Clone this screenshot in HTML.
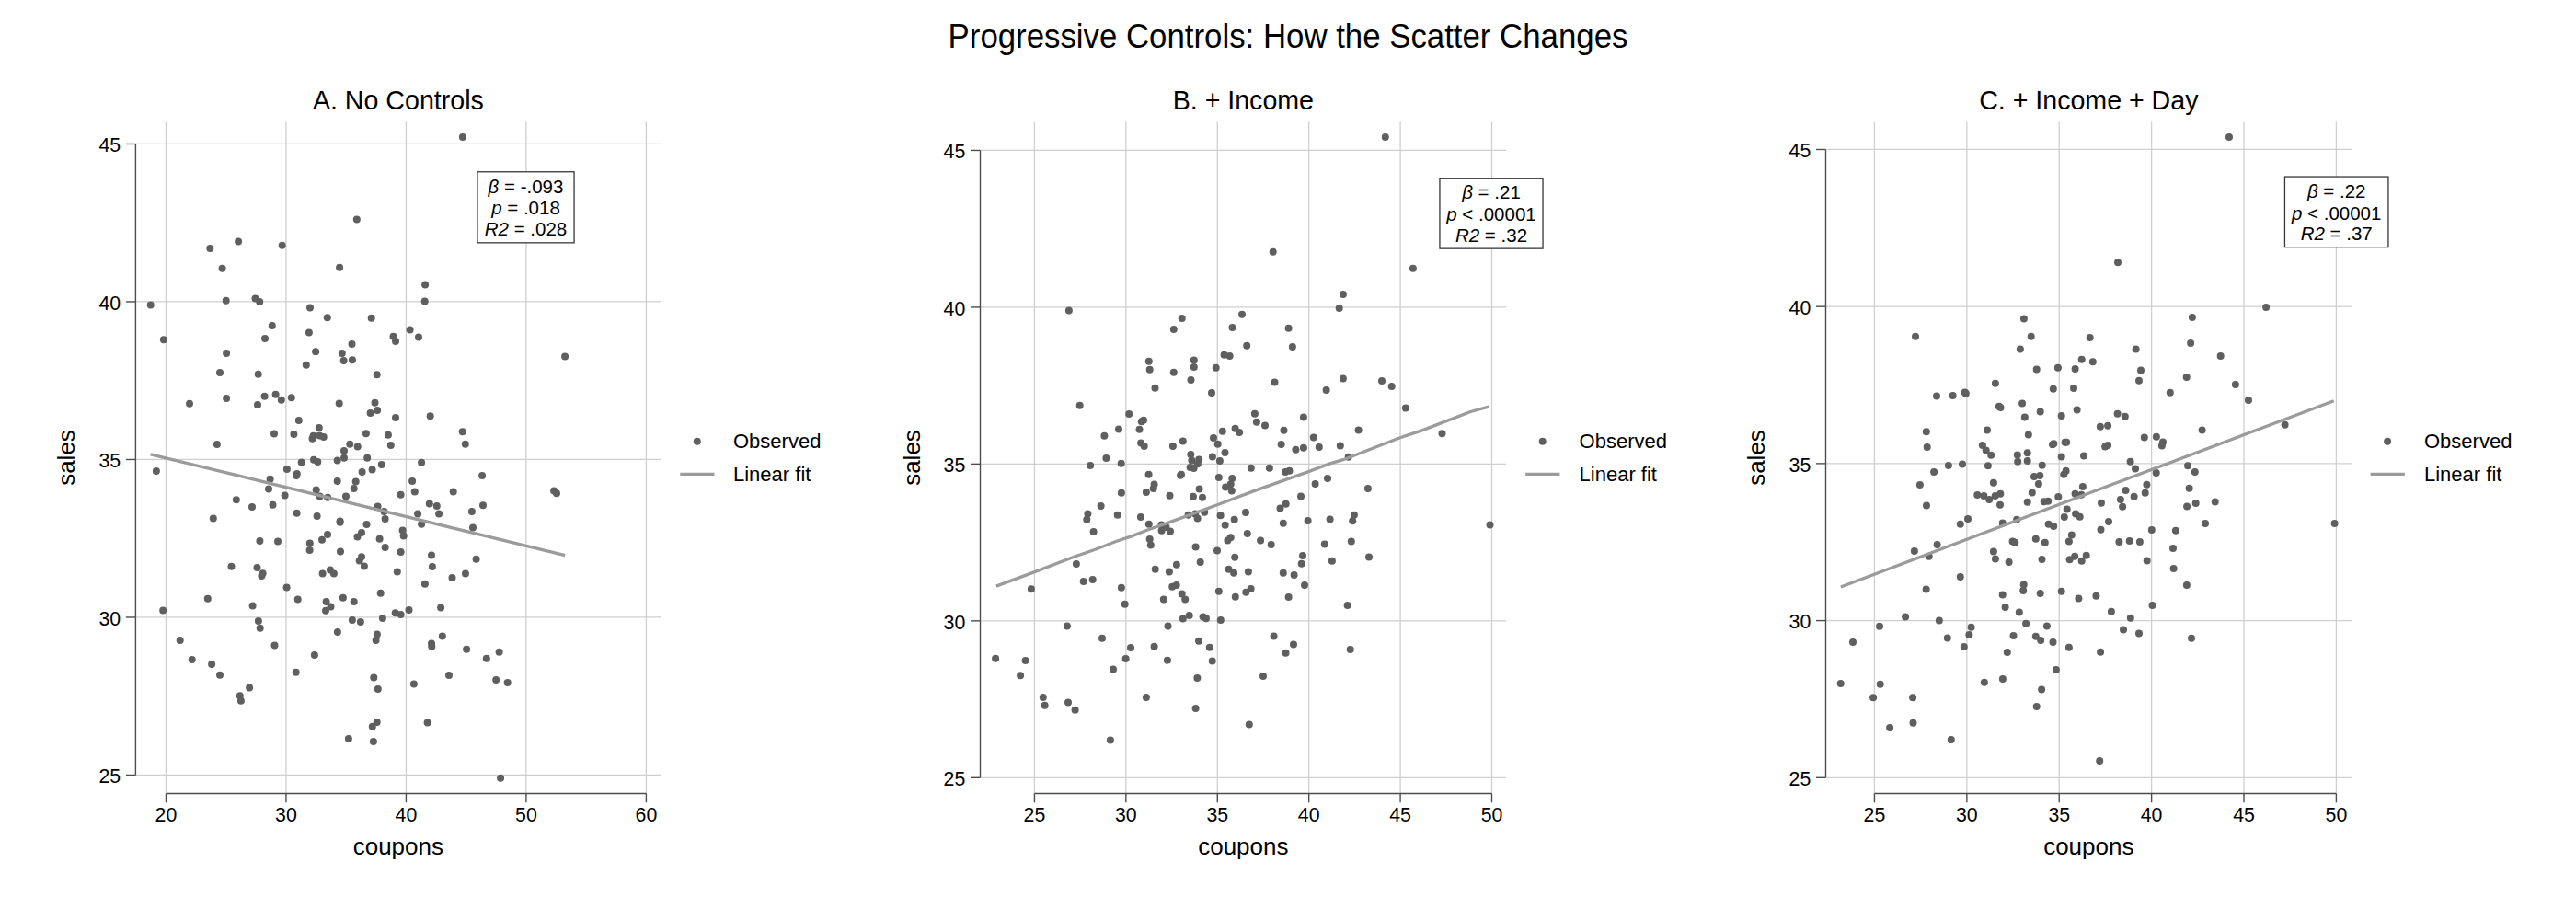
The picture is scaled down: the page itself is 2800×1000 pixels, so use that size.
<!DOCTYPE html>
<html><head><meta charset="utf-8"><style>
html,body{margin:0;padding:0;background:#fff;width:2800px;height:1000px;overflow:hidden}
svg text{font-family:"Liberation Sans",sans-serif;fill:#000}
</style></head><body>
<svg width="2800" height="1000" viewBox="0 0 2800 1000" style="position:absolute;left:0;top:0">
<rect width="2800" height="1000" fill="#fff"/>
<text transform="translate(1400.00,52.40) scale(1.0,1.04)" text-anchor="middle" font-size="34.8">Progressive Controls: How the Scatter Changes</text>
<g><line x1="147.40" y1="842.46" x2="718.30" y2="842.46" stroke="#cfcfcf" stroke-width="1.3"/><line x1="147.40" y1="670.96" x2="718.30" y2="670.96" stroke="#cfcfcf" stroke-width="1.3"/><line x1="147.40" y1="499.47" x2="718.30" y2="499.47" stroke="#cfcfcf" stroke-width="1.3"/><line x1="147.40" y1="327.97" x2="718.30" y2="327.97" stroke="#cfcfcf" stroke-width="1.3"/><line x1="147.40" y1="156.47" x2="718.30" y2="156.47" stroke="#cfcfcf" stroke-width="1.3"/><line x1="180.45" y1="132.5" x2="180.45" y2="862.50" stroke="#cfcfcf" stroke-width="1.3"/><line x1="310.94" y1="132.5" x2="310.94" y2="862.50" stroke="#cfcfcf" stroke-width="1.3"/><line x1="441.43" y1="132.5" x2="441.43" y2="862.50" stroke="#cfcfcf" stroke-width="1.3"/><line x1="571.91" y1="132.5" x2="571.91" y2="862.50" stroke="#cfcfcf" stroke-width="1.3"/><line x1="702.40" y1="132.5" x2="702.40" y2="862.50" stroke="#cfcfcf" stroke-width="1.3"/><line x1="147.40" y1="156.47" x2="147.40" y2="842.46" stroke="#4d4d4d" stroke-width="1.4"/><line x1="136.90" y1="842.46" x2="147.40" y2="842.46" stroke="#4d4d4d" stroke-width="1.4"/><text transform="translate(131.20,851.16) scale(1.0,1.04)" text-anchor="end" font-size="21.3">25</text><line x1="136.90" y1="670.96" x2="147.40" y2="670.96" stroke="#4d4d4d" stroke-width="1.4"/><text transform="translate(131.20,679.66) scale(1.0,1.04)" text-anchor="end" font-size="21.3">30</text><line x1="136.90" y1="499.47" x2="147.40" y2="499.47" stroke="#4d4d4d" stroke-width="1.4"/><text transform="translate(131.20,508.17) scale(1.0,1.04)" text-anchor="end" font-size="21.3">35</text><line x1="136.90" y1="327.97" x2="147.40" y2="327.97" stroke="#4d4d4d" stroke-width="1.4"/><text transform="translate(131.20,336.67) scale(1.0,1.04)" text-anchor="end" font-size="21.3">40</text><line x1="136.90" y1="156.47" x2="147.40" y2="156.47" stroke="#4d4d4d" stroke-width="1.4"/><text transform="translate(131.20,165.17) scale(1.0,1.04)" text-anchor="end" font-size="21.3">45</text><line x1="180.45" y1="862.5" x2="702.40" y2="862.5" stroke="#4d4d4d" stroke-width="1.4"/><line x1="180.45" y1="862.5" x2="180.45" y2="872.30" stroke="#4d4d4d" stroke-width="1.4"/><text transform="translate(180.45,893.30) scale(1.0,1.04)" text-anchor="middle" font-size="21.3">20</text><line x1="310.94" y1="862.5" x2="310.94" y2="872.30" stroke="#4d4d4d" stroke-width="1.4"/><text transform="translate(310.94,893.30) scale(1.0,1.04)" text-anchor="middle" font-size="21.3">30</text><line x1="441.43" y1="862.5" x2="441.43" y2="872.30" stroke="#4d4d4d" stroke-width="1.4"/><text transform="translate(441.43,893.30) scale(1.0,1.04)" text-anchor="middle" font-size="21.3">40</text><line x1="571.91" y1="862.5" x2="571.91" y2="872.30" stroke="#4d4d4d" stroke-width="1.4"/><text transform="translate(571.91,893.30) scale(1.0,1.04)" text-anchor="middle" font-size="21.3">50</text><line x1="702.40" y1="862.5" x2="702.40" y2="872.30" stroke="#4d4d4d" stroke-width="1.4"/><text transform="translate(702.40,893.30) scale(1.0,1.04)" text-anchor="middle" font-size="21.3">60</text><text transform="translate(432.85,119.00) scale(1.0,1.03)" text-anchor="middle" font-size="28.6">A. No Controls</text><text x="432.85" y="929.3" text-anchor="middle" font-size="26">coupons</text><text transform="translate(81.00,497.5) rotate(-90)" x="0" y="0" text-anchor="middle" font-size="26">sales</text><circle cx="387.8" cy="238.6" r="4" fill="#5f5f5f"/><circle cx="259.1" cy="262.5" r="4" fill="#5f5f5f"/><circle cx="228.3" cy="269.9" r="4" fill="#5f5f5f"/><circle cx="306.7" cy="266.8" r="4" fill="#5f5f5f"/><circle cx="241.6" cy="291.7" r="4" fill="#5f5f5f"/><circle cx="369.1" cy="290.7" r="4" fill="#5f5f5f"/><circle cx="502.9" cy="149.1" r="4" fill="#5f5f5f"/><circle cx="462.1" cy="309.6" r="4" fill="#5f5f5f"/><circle cx="163.7" cy="331.6" r="4" fill="#5f5f5f"/><circle cx="245.7" cy="326.7" r="4" fill="#5f5f5f"/><circle cx="277.5" cy="324.5" r="4" fill="#5f5f5f"/><circle cx="282.2" cy="327.9" r="4" fill="#5f5f5f"/><circle cx="337.0" cy="334.5" r="4" fill="#5f5f5f"/><circle cx="355.8" cy="345.2" r="4" fill="#5f5f5f"/><circle cx="403.7" cy="345.7" r="4" fill="#5f5f5f"/><circle cx="295.8" cy="353.9" r="4" fill="#5f5f5f"/><circle cx="335.9" cy="361.5" r="4" fill="#5f5f5f"/><circle cx="288.0" cy="368.0" r="4" fill="#5f5f5f"/><circle cx="177.9" cy="369.3" r="4" fill="#5f5f5f"/><circle cx="427.5" cy="365.7" r="4" fill="#5f5f5f"/><circle cx="430.0" cy="370.9" r="4" fill="#5f5f5f"/><circle cx="382.5" cy="374.0" r="4" fill="#5f5f5f"/><circle cx="246.1" cy="384.0" r="4" fill="#5f5f5f"/><circle cx="343.1" cy="382.2" r="4" fill="#5f5f5f"/><circle cx="371.8" cy="384.0" r="4" fill="#5f5f5f"/><circle cx="373.6" cy="392.0" r="4" fill="#5f5f5f"/><circle cx="382.9" cy="391.2" r="4" fill="#5f5f5f"/><circle cx="332.8" cy="396.7" r="4" fill="#5f5f5f"/><circle cx="239.0" cy="405.0" r="4" fill="#5f5f5f"/><circle cx="280.7" cy="406.8" r="4" fill="#5f5f5f"/><circle cx="409.7" cy="407.2" r="4" fill="#5f5f5f"/><circle cx="287.6" cy="430.8" r="4" fill="#5f5f5f"/><circle cx="299.6" cy="428.8" r="4" fill="#5f5f5f"/><circle cx="305.8" cy="434.8" r="4" fill="#5f5f5f"/><circle cx="316.8" cy="432.2" r="4" fill="#5f5f5f"/><circle cx="246.1" cy="433.0" r="4" fill="#5f5f5f"/><circle cx="280.0" cy="440.0" r="4" fill="#5f5f5f"/><circle cx="206.0" cy="438.8" r="4" fill="#5f5f5f"/><circle cx="368.7" cy="438.6" r="4" fill="#5f5f5f"/><circle cx="407.5" cy="437.7" r="4" fill="#5f5f5f"/><circle cx="410.1" cy="446.0" r="4" fill="#5f5f5f"/><circle cx="402.6" cy="448.9" r="4" fill="#5f5f5f"/><circle cx="430.0" cy="454.0" r="4" fill="#5f5f5f"/><circle cx="324.8" cy="457.1" r="4" fill="#5f5f5f"/><circle cx="346.8" cy="464.9" r="4" fill="#5f5f5f"/><circle cx="298.0" cy="471.6" r="4" fill="#5f5f5f"/><circle cx="319.4" cy="472.0" r="4" fill="#5f5f5f"/><circle cx="340.6" cy="473.8" r="4" fill="#5f5f5f"/><circle cx="339.5" cy="476.7" r="4" fill="#5f5f5f"/><circle cx="347.3" cy="473.4" r="4" fill="#5f5f5f"/><circle cx="351.7" cy="474.9" r="4" fill="#5f5f5f"/><circle cx="397.9" cy="471.2" r="4" fill="#5f5f5f"/><circle cx="421.9" cy="472.7" r="4" fill="#5f5f5f"/><circle cx="235.9" cy="483.0" r="4" fill="#5f5f5f"/><circle cx="380.3" cy="482.7" r="4" fill="#5f5f5f"/><circle cx="388.7" cy="485.6" r="4" fill="#5f5f5f"/><circle cx="374.0" cy="490.1" r="4" fill="#5f5f5f"/><circle cx="424.8" cy="483.9" r="4" fill="#5f5f5f"/><circle cx="461.7" cy="327.6" r="4" fill="#5f5f5f"/><circle cx="445.6" cy="358.4" r="4" fill="#5f5f5f"/><circle cx="455.0" cy="366.6" r="4" fill="#5f5f5f"/><circle cx="614.1" cy="387.6" r="4" fill="#5f5f5f"/><circle cx="467.7" cy="452.2" r="4" fill="#5f5f5f"/><circle cx="502.7" cy="469.2" r="4" fill="#5f5f5f"/><circle cx="505.8" cy="482.7" r="4" fill="#5f5f5f"/><circle cx="374.0" cy="497.7" r="4" fill="#5f5f5f"/><circle cx="366.7" cy="500.6" r="4" fill="#5f5f5f"/><circle cx="399.2" cy="497.7" r="4" fill="#5f5f5f"/><circle cx="341.0" cy="499.7" r="4" fill="#5f5f5f"/><circle cx="345.3" cy="501.9" r="4" fill="#5f5f5f"/><circle cx="327.7" cy="502.4" r="4" fill="#5f5f5f"/><circle cx="414.8" cy="505.1" r="4" fill="#5f5f5f"/><circle cx="169.9" cy="512.0" r="4" fill="#5f5f5f"/><circle cx="311.9" cy="510.0" r="4" fill="#5f5f5f"/><circle cx="322.8" cy="515.1" r="4" fill="#5f5f5f"/><circle cx="322.2" cy="516.9" r="4" fill="#5f5f5f"/><circle cx="404.6" cy="510.6" r="4" fill="#5f5f5f"/><circle cx="393.6" cy="512.9" r="4" fill="#5f5f5f"/><circle cx="293.6" cy="520.7" r="4" fill="#5f5f5f"/><circle cx="366.7" cy="522.9" r="4" fill="#5f5f5f"/><circle cx="386.7" cy="523.6" r="4" fill="#5f5f5f"/><circle cx="384.7" cy="531.1" r="4" fill="#5f5f5f"/><circle cx="292.0" cy="531.6" r="4" fill="#5f5f5f"/><circle cx="343.7" cy="532.5" r="4" fill="#5f5f5f"/><circle cx="347.7" cy="539.6" r="4" fill="#5f5f5f"/><circle cx="356.2" cy="540.7" r="4" fill="#5f5f5f"/><circle cx="376.0" cy="539.6" r="4" fill="#5f5f5f"/><circle cx="309.6" cy="538.5" r="4" fill="#5f5f5f"/><circle cx="256.8" cy="543.2" r="4" fill="#5f5f5f"/><circle cx="274.0" cy="551.0" r="4" fill="#5f5f5f"/><circle cx="296.5" cy="548.7" r="4" fill="#5f5f5f"/><circle cx="410.6" cy="550.5" r="4" fill="#5f5f5f"/><circle cx="417.5" cy="555.9" r="4" fill="#5f5f5f"/><circle cx="418.6" cy="563.9" r="4" fill="#5f5f5f"/><circle cx="322.6" cy="557.7" r="4" fill="#5f5f5f"/><circle cx="344.6" cy="561.0" r="4" fill="#5f5f5f"/><circle cx="231.8" cy="563.4" r="4" fill="#5f5f5f"/><circle cx="369.6" cy="566.6" r="4" fill="#5f5f5f"/><circle cx="369.6" cy="567.7" r="4" fill="#5f5f5f"/><circle cx="398.5" cy="569.9" r="4" fill="#5f5f5f"/><circle cx="356.0" cy="581.1" r="4" fill="#5f5f5f"/><circle cx="393.0" cy="579.0" r="4" fill="#5f5f5f"/><circle cx="388.5" cy="583.5" r="4" fill="#5f5f5f"/><circle cx="350.0" cy="586.8" r="4" fill="#5f5f5f"/><circle cx="412.6" cy="585.7" r="4" fill="#5f5f5f"/><circle cx="282.4" cy="588.0" r="4" fill="#5f5f5f"/><circle cx="302.0" cy="588.4" r="4" fill="#5f5f5f"/><circle cx="336.8" cy="590.4" r="4" fill="#5f5f5f"/><circle cx="336.6" cy="598.0" r="4" fill="#5f5f5f"/><circle cx="418.6" cy="594.9" r="4" fill="#5f5f5f"/><circle cx="370.0" cy="599.6" r="4" fill="#5f5f5f"/><circle cx="393.0" cy="605.3" r="4" fill="#5f5f5f"/><circle cx="390.7" cy="609.4" r="4" fill="#5f5f5f"/><circle cx="395.9" cy="615.6" r="4" fill="#5f5f5f"/><circle cx="251.5" cy="615.8" r="4" fill="#5f5f5f"/><circle cx="279.5" cy="616.9" r="4" fill="#5f5f5f"/><circle cx="285.6" cy="623.2" r="4" fill="#5f5f5f"/><circle cx="284.4" cy="626.1" r="4" fill="#5f5f5f"/><circle cx="350.6" cy="623.6" r="4" fill="#5f5f5f"/><circle cx="358.9" cy="619.4" r="4" fill="#5f5f5f"/><circle cx="362.9" cy="623.6" r="4" fill="#5f5f5f"/><circle cx="311.6" cy="638.6" r="4" fill="#5f5f5f"/><circle cx="413.7" cy="644.8" r="4" fill="#5f5f5f"/><circle cx="225.8" cy="650.8" r="4" fill="#5f5f5f"/><circle cx="323.7" cy="651.5" r="4" fill="#5f5f5f"/><circle cx="372.9" cy="649.7" r="4" fill="#5f5f5f"/><circle cx="384.7" cy="653.9" r="4" fill="#5f5f5f"/><circle cx="354.6" cy="653.9" r="4" fill="#5f5f5f"/><circle cx="359.5" cy="659.5" r="4" fill="#5f5f5f"/><circle cx="354.0" cy="663.7" r="4" fill="#5f5f5f"/><circle cx="274.6" cy="658.6" r="4" fill="#5f5f5f"/><circle cx="177.2" cy="663.5" r="4" fill="#5f5f5f"/><circle cx="429.7" cy="666.2" r="4" fill="#5f5f5f"/><circle cx="415.9" cy="672.0" r="4" fill="#5f5f5f"/><circle cx="382.9" cy="674.0" r="4" fill="#5f5f5f"/><circle cx="391.9" cy="676.0" r="4" fill="#5f5f5f"/><circle cx="280.9" cy="675.1" r="4" fill="#5f5f5f"/><circle cx="458.1" cy="502.8" r="4" fill="#5f5f5f"/><circle cx="524.1" cy="516.9" r="4" fill="#5f5f5f"/><circle cx="448.1" cy="522.9" r="4" fill="#5f5f5f"/><circle cx="435.6" cy="537.8" r="4" fill="#5f5f5f"/><circle cx="450.8" cy="534.5" r="4" fill="#5f5f5f"/><circle cx="492.7" cy="534.5" r="4" fill="#5f5f5f"/><circle cx="602.1" cy="533.6" r="4" fill="#5f5f5f"/><circle cx="605.0" cy="536.3" r="4" fill="#5f5f5f"/><circle cx="466.8" cy="547.6" r="4" fill="#5f5f5f"/><circle cx="474.8" cy="549.9" r="4" fill="#5f5f5f"/><circle cx="525.0" cy="549.2" r="4" fill="#5f5f5f"/><circle cx="454.1" cy="558.5" r="4" fill="#5f5f5f"/><circle cx="477.1" cy="558.5" r="4" fill="#5f5f5f"/><circle cx="512.9" cy="556.1" r="4" fill="#5f5f5f"/><circle cx="458.1" cy="569.7" r="4" fill="#5f5f5f"/><circle cx="514.0" cy="573.5" r="4" fill="#5f5f5f"/><circle cx="437.6" cy="576.4" r="4" fill="#5f5f5f"/><circle cx="438.7" cy="582.4" r="4" fill="#5f5f5f"/><circle cx="435.6" cy="600.0" r="4" fill="#5f5f5f"/><circle cx="469.0" cy="603.6" r="4" fill="#5f5f5f"/><circle cx="517.6" cy="607.8" r="4" fill="#5f5f5f"/><circle cx="469.9" cy="616.0" r="4" fill="#5f5f5f"/><circle cx="431.8" cy="621.4" r="4" fill="#5f5f5f"/><circle cx="506.0" cy="623.6" r="4" fill="#5f5f5f"/><circle cx="491.5" cy="628.1" r="4" fill="#5f5f5f"/><circle cx="461.9" cy="634.8" r="4" fill="#5f5f5f"/><circle cx="479.1" cy="660.6" r="4" fill="#5f5f5f"/><circle cx="444.5" cy="663.1" r="4" fill="#5f5f5f"/><circle cx="435.6" cy="668.0" r="4" fill="#5f5f5f"/><circle cx="282.7" cy="682.7" r="4" fill="#5f5f5f"/><circle cx="195.7" cy="696.1" r="4" fill="#5f5f5f"/><circle cx="208.7" cy="717.0" r="4" fill="#5f5f5f"/><circle cx="230.1" cy="722.1" r="4" fill="#5f5f5f"/><circle cx="239.0" cy="733.7" r="4" fill="#5f5f5f"/><circle cx="271.1" cy="747.6" r="4" fill="#5f5f5f"/><circle cx="260.8" cy="756.2" r="4" fill="#5f5f5f"/><circle cx="261.9" cy="761.8" r="4" fill="#5f5f5f"/><circle cx="298.5" cy="701.6" r="4" fill="#5f5f5f"/><circle cx="321.7" cy="730.8" r="4" fill="#5f5f5f"/><circle cx="341.9" cy="712.1" r="4" fill="#5f5f5f"/><circle cx="366.9" cy="686.9" r="4" fill="#5f5f5f"/><circle cx="409.9" cy="689.6" r="4" fill="#5f5f5f"/><circle cx="408.6" cy="695.9" r="4" fill="#5f5f5f"/><circle cx="406.3" cy="736.4" r="4" fill="#5f5f5f"/><circle cx="410.8" cy="748.9" r="4" fill="#5f5f5f"/><circle cx="409.7" cy="785.0" r="4" fill="#5f5f5f"/><circle cx="404.8" cy="789.7" r="4" fill="#5f5f5f"/><circle cx="378.9" cy="803.0" r="4" fill="#5f5f5f"/><circle cx="405.9" cy="805.9" r="4" fill="#5f5f5f"/><circle cx="480.8" cy="691.6" r="4" fill="#5f5f5f"/><circle cx="469.0" cy="699.6" r="4" fill="#5f5f5f"/><circle cx="469.3" cy="702.8" r="4" fill="#5f5f5f"/><circle cx="507.1" cy="705.7" r="4" fill="#5f5f5f"/><circle cx="528.8" cy="715.7" r="4" fill="#5f5f5f"/><circle cx="542.6" cy="708.8" r="4" fill="#5f5f5f"/><circle cx="488.0" cy="734.0" r="4" fill="#5f5f5f"/><circle cx="449.9" cy="743.5" r="4" fill="#5f5f5f"/><circle cx="539.2" cy="739.1" r="4" fill="#5f5f5f"/><circle cx="551.7" cy="742.0" r="4" fill="#5f5f5f"/><circle cx="464.6" cy="785.4" r="4" fill="#5f5f5f"/><circle cx="544.1" cy="845.8" r="4" fill="#5f5f5f"/><polyline points="163.7,493.8 614.1,603.6" fill="none" stroke="#9b9b9b" stroke-width="3.3" stroke-linejoin="round"/><rect x="518.95" y="186.75" width="105.10" height="77.10" fill="#fff" stroke="#383838" stroke-width="1.3"/><text x="571.50" y="209.5" text-anchor="middle" font-size="20.5"><tspan font-style="italic">β</tspan> = -.093</text><text x="571.50" y="232.8" text-anchor="middle" font-size="20.5"><tspan font-style="italic">p</tspan> = .018</text><text x="571.50" y="255.5" text-anchor="middle" font-size="20.5"><tspan font-style="italic">R2</tspan> = .028</text><circle cx="757.80" cy="479.8" r="4" fill="#5f5f5f"/><text x="797.00" y="487.3" font-size="22">Observed</text><line x1="739.30" y1="515.3" x2="776.50" y2="515.3" stroke="#9b9b9b" stroke-width="3.3"/><text x="797.00" y="523.2" font-size="22">Linear fit</text></g>
<g><line x1="1065.50" y1="845.30" x2="1637.20" y2="845.30" stroke="#cfcfcf" stroke-width="1.3"/><line x1="1065.50" y1="674.83" x2="1637.20" y2="674.83" stroke="#cfcfcf" stroke-width="1.3"/><line x1="1065.50" y1="504.37" x2="1637.20" y2="504.37" stroke="#cfcfcf" stroke-width="1.3"/><line x1="1065.50" y1="333.90" x2="1637.20" y2="333.90" stroke="#cfcfcf" stroke-width="1.3"/><line x1="1065.50" y1="163.44" x2="1637.20" y2="163.44" stroke="#cfcfcf" stroke-width="1.3"/><line x1="1124.45" y1="132.5" x2="1124.45" y2="862.50" stroke="#cfcfcf" stroke-width="1.3"/><line x1="1223.86" y1="132.5" x2="1223.86" y2="862.50" stroke="#cfcfcf" stroke-width="1.3"/><line x1="1323.27" y1="132.5" x2="1323.27" y2="862.50" stroke="#cfcfcf" stroke-width="1.3"/><line x1="1422.68" y1="132.5" x2="1422.68" y2="862.50" stroke="#cfcfcf" stroke-width="1.3"/><line x1="1522.09" y1="132.5" x2="1522.09" y2="862.50" stroke="#cfcfcf" stroke-width="1.3"/><line x1="1621.50" y1="132.5" x2="1621.50" y2="862.50" stroke="#cfcfcf" stroke-width="1.3"/><line x1="1065.50" y1="163.44" x2="1065.50" y2="845.30" stroke="#4d4d4d" stroke-width="1.4"/><line x1="1055.00" y1="845.30" x2="1065.50" y2="845.30" stroke="#4d4d4d" stroke-width="1.4"/><text transform="translate(1049.30,854.00) scale(1.0,1.04)" text-anchor="end" font-size="21.3">25</text><line x1="1055.00" y1="674.83" x2="1065.50" y2="674.83" stroke="#4d4d4d" stroke-width="1.4"/><text transform="translate(1049.30,683.53) scale(1.0,1.04)" text-anchor="end" font-size="21.3">30</text><line x1="1055.00" y1="504.37" x2="1065.50" y2="504.37" stroke="#4d4d4d" stroke-width="1.4"/><text transform="translate(1049.30,513.07) scale(1.0,1.04)" text-anchor="end" font-size="21.3">35</text><line x1="1055.00" y1="333.90" x2="1065.50" y2="333.90" stroke="#4d4d4d" stroke-width="1.4"/><text transform="translate(1049.30,342.60) scale(1.0,1.04)" text-anchor="end" font-size="21.3">40</text><line x1="1055.00" y1="163.44" x2="1065.50" y2="163.44" stroke="#4d4d4d" stroke-width="1.4"/><text transform="translate(1049.30,172.14) scale(1.0,1.04)" text-anchor="end" font-size="21.3">45</text><line x1="1124.45" y1="862.5" x2="1621.50" y2="862.5" stroke="#4d4d4d" stroke-width="1.4"/><line x1="1124.45" y1="862.5" x2="1124.45" y2="872.30" stroke="#4d4d4d" stroke-width="1.4"/><text transform="translate(1124.45,893.30) scale(1.0,1.04)" text-anchor="middle" font-size="21.3">25</text><line x1="1223.86" y1="862.5" x2="1223.86" y2="872.30" stroke="#4d4d4d" stroke-width="1.4"/><text transform="translate(1223.86,893.30) scale(1.0,1.04)" text-anchor="middle" font-size="21.3">30</text><line x1="1323.27" y1="862.5" x2="1323.27" y2="872.30" stroke="#4d4d4d" stroke-width="1.4"/><text transform="translate(1323.27,893.30) scale(1.0,1.04)" text-anchor="middle" font-size="21.3">35</text><line x1="1422.68" y1="862.5" x2="1422.68" y2="872.30" stroke="#4d4d4d" stroke-width="1.4"/><text transform="translate(1422.68,893.30) scale(1.0,1.04)" text-anchor="middle" font-size="21.3">40</text><line x1="1522.09" y1="862.5" x2="1522.09" y2="872.30" stroke="#4d4d4d" stroke-width="1.4"/><text transform="translate(1522.09,893.30) scale(1.0,1.04)" text-anchor="middle" font-size="21.3">45</text><line x1="1621.50" y1="862.5" x2="1621.50" y2="872.30" stroke="#4d4d4d" stroke-width="1.4"/><text transform="translate(1621.50,893.30) scale(1.0,1.04)" text-anchor="middle" font-size="21.3">50</text><text transform="translate(1351.35,119.00) scale(1.0,1.03)" text-anchor="middle" font-size="28.6">B. + Income</text><text x="1351.35" y="929.3" text-anchor="middle" font-size="26">coupons</text><text transform="translate(999.90,497.5) rotate(-90)" x="0" y="0" text-anchor="middle" font-size="26">sales</text><circle cx="1505.8" cy="149.1" r="4" fill="#5f5f5f"/><circle cx="1383.7" cy="273.7" r="4" fill="#5f5f5f"/><circle cx="1535.9" cy="291.7" r="4" fill="#5f5f5f"/><circle cx="1161.9" cy="337.4" r="4" fill="#5f5f5f"/><circle cx="1284.7" cy="346.1" r="4" fill="#5f5f5f"/><circle cx="1275.8" cy="357.9" r="4" fill="#5f5f5f"/><circle cx="1339.5" cy="355.9" r="4" fill="#5f5f5f"/><circle cx="1330.6" cy="385.8" r="4" fill="#5f5f5f"/><circle cx="1336.6" cy="387.1" r="4" fill="#5f5f5f"/><circle cx="1248.8" cy="392.7" r="4" fill="#5f5f5f"/><circle cx="1249.7" cy="401.8" r="4" fill="#5f5f5f"/><circle cx="1297.8" cy="391.6" r="4" fill="#5f5f5f"/><circle cx="1297.8" cy="399.0" r="4" fill="#5f5f5f"/><circle cx="1275.8" cy="404.7" r="4" fill="#5f5f5f"/><circle cx="1321.7" cy="399.8" r="4" fill="#5f5f5f"/><circle cx="1294.5" cy="413.0" r="4" fill="#5f5f5f"/><circle cx="1255.5" cy="421.7" r="4" fill="#5f5f5f"/><circle cx="1317.0" cy="427.0" r="4" fill="#5f5f5f"/><circle cx="1173.7" cy="440.8" r="4" fill="#5f5f5f"/><circle cx="1227.2" cy="450.0" r="4" fill="#5f5f5f"/><circle cx="1240.8" cy="458.2" r="4" fill="#5f5f5f"/><circle cx="1243.0" cy="456.7" r="4" fill="#5f5f5f"/><circle cx="1216.0" cy="466.5" r="4" fill="#5f5f5f"/><circle cx="1238.5" cy="466.7" r="4" fill="#5f5f5f"/><circle cx="1200.4" cy="473.8" r="4" fill="#5f5f5f"/><circle cx="1328.8" cy="468.7" r="4" fill="#5f5f5f"/><circle cx="1342.6" cy="465.8" r="4" fill="#5f5f5f"/><circle cx="1347.1" cy="470.0" r="4" fill="#5f5f5f"/><circle cx="1319.0" cy="476.1" r="4" fill="#5f5f5f"/><circle cx="1323.7" cy="482.7" r="4" fill="#5f5f5f"/><circle cx="1285.8" cy="479.6" r="4" fill="#5f5f5f"/><circle cx="1274.9" cy="485.0" r="4" fill="#5f5f5f"/><circle cx="1240.1" cy="481.6" r="4" fill="#5f5f5f"/><circle cx="1243.7" cy="485.0" r="4" fill="#5f5f5f"/><circle cx="1294.3" cy="493.9" r="4" fill="#5f5f5f"/><circle cx="1331.5" cy="492.1" r="4" fill="#5f5f5f"/><circle cx="1459.9" cy="320.1" r="4" fill="#5f5f5f"/><circle cx="1455.7" cy="335.0" r="4" fill="#5f5f5f"/><circle cx="1350.0" cy="341.7" r="4" fill="#5f5f5f"/><circle cx="1400.6" cy="356.8" r="4" fill="#5f5f5f"/><circle cx="1355.2" cy="375.8" r="4" fill="#5f5f5f"/><circle cx="1404.9" cy="377.1" r="4" fill="#5f5f5f"/><circle cx="1385.5" cy="415.4" r="4" fill="#5f5f5f"/><circle cx="1441.6" cy="424.1" r="4" fill="#5f5f5f"/><circle cx="1459.9" cy="411.4" r="4" fill="#5f5f5f"/><circle cx="1502.0" cy="414.1" r="4" fill="#5f5f5f"/><circle cx="1512.7" cy="420.1" r="4" fill="#5f5f5f"/><circle cx="1527.9" cy="443.5" r="4" fill="#5f5f5f"/><circle cx="1363.9" cy="449.8" r="4" fill="#5f5f5f"/><circle cx="1365.9" cy="458.7" r="4" fill="#5f5f5f"/><circle cx="1375.0" cy="462.5" r="4" fill="#5f5f5f"/><circle cx="1395.5" cy="467.8" r="4" fill="#5f5f5f"/><circle cx="1416.9" cy="453.6" r="4" fill="#5f5f5f"/><circle cx="1476.6" cy="467.4" r="4" fill="#5f5f5f"/><circle cx="1567.5" cy="471.2" r="4" fill="#5f5f5f"/><circle cx="1427.8" cy="475.6" r="4" fill="#5f5f5f"/><circle cx="1392.6" cy="483.0" r="4" fill="#5f5f5f"/><circle cx="1408.4" cy="488.8" r="4" fill="#5f5f5f"/><circle cx="1416.9" cy="486.8" r="4" fill="#5f5f5f"/><circle cx="1433.8" cy="485.9" r="4" fill="#5f5f5f"/><circle cx="1456.8" cy="484.5" r="4" fill="#5f5f5f"/><circle cx="1202.4" cy="497.9" r="4" fill="#5f5f5f"/><circle cx="1185.1" cy="505.9" r="4" fill="#5f5f5f"/><circle cx="1218.7" cy="503.7" r="4" fill="#5f5f5f"/><circle cx="1317.9" cy="496.6" r="4" fill="#5f5f5f"/><circle cx="1325.9" cy="501.0" r="4" fill="#5f5f5f"/><circle cx="1295.4" cy="500.6" r="4" fill="#5f5f5f"/><circle cx="1303.2" cy="499.5" r="4" fill="#5f5f5f"/><circle cx="1301.8" cy="504.2" r="4" fill="#5f5f5f"/><circle cx="1293.6" cy="508.0" r="4" fill="#5f5f5f"/><circle cx="1297.6" cy="509.1" r="4" fill="#5f5f5f"/><circle cx="1248.6" cy="515.8" r="4" fill="#5f5f5f"/><circle cx="1283.0" cy="516.8" r="4" fill="#5f5f5f"/><circle cx="1284.0" cy="515.8" r="4" fill="#5f5f5f"/><circle cx="1324.8" cy="519.1" r="4" fill="#5f5f5f"/><circle cx="1339.3" cy="520.0" r="4" fill="#5f5f5f"/><circle cx="1337.7" cy="526.2" r="4" fill="#5f5f5f"/><circle cx="1332.1" cy="529.6" r="4" fill="#5f5f5f"/><circle cx="1338.8" cy="533.4" r="4" fill="#5f5f5f"/><circle cx="1254.6" cy="526.5" r="4" fill="#5f5f5f"/><circle cx="1253.7" cy="531.1" r="4" fill="#5f5f5f"/><circle cx="1218.9" cy="535.8" r="4" fill="#5f5f5f"/><circle cx="1245.9" cy="534.9" r="4" fill="#5f5f5f"/><circle cx="1271.5" cy="538.7" r="4" fill="#5f5f5f"/><circle cx="1303.6" cy="531.6" r="4" fill="#5f5f5f"/><circle cx="1296.9" cy="539.8" r="4" fill="#5f5f5f"/><circle cx="1307.0" cy="540.7" r="4" fill="#5f5f5f"/><circle cx="1196.6" cy="550.1" r="4" fill="#5f5f5f"/><circle cx="1182.4" cy="558.5" r="4" fill="#5f5f5f"/><circle cx="1181.3" cy="564.8" r="4" fill="#5f5f5f"/><circle cx="1214.7" cy="559.7" r="4" fill="#5f5f5f"/><circle cx="1239.9" cy="561.9" r="4" fill="#5f5f5f"/><circle cx="1248.8" cy="569.7" r="4" fill="#5f5f5f"/><circle cx="1262.4" cy="570.4" r="4" fill="#5f5f5f"/><circle cx="1267.5" cy="573.0" r="4" fill="#5f5f5f"/><circle cx="1262.6" cy="576.8" r="4" fill="#5f5f5f"/><circle cx="1272.0" cy="577.5" r="4" fill="#5f5f5f"/><circle cx="1291.6" cy="559.7" r="4" fill="#5f5f5f"/><circle cx="1299.2" cy="558.5" r="4" fill="#5f5f5f"/><circle cx="1301.6" cy="563.4" r="4" fill="#5f5f5f"/><circle cx="1309.2" cy="556.8" r="4" fill="#5f5f5f"/><circle cx="1326.6" cy="560.3" r="4" fill="#5f5f5f"/><circle cx="1341.7" cy="564.8" r="4" fill="#5f5f5f"/><circle cx="1331.7" cy="570.8" r="4" fill="#5f5f5f"/><circle cx="1188.6" cy="577.9" r="4" fill="#5f5f5f"/><circle cx="1249.7" cy="586.0" r="4" fill="#5f5f5f"/><circle cx="1250.8" cy="592.6" r="4" fill="#5f5f5f"/><circle cx="1337.7" cy="584.2" r="4" fill="#5f5f5f"/><circle cx="1334.4" cy="587.5" r="4" fill="#5f5f5f"/><circle cx="1299.6" cy="594.4" r="4" fill="#5f5f5f"/><circle cx="1323.0" cy="598.4" r="4" fill="#5f5f5f"/><circle cx="1342.2" cy="605.8" r="4" fill="#5f5f5f"/><circle cx="1304.7" cy="610.9" r="4" fill="#5f5f5f"/><circle cx="1169.9" cy="613.1" r="4" fill="#5f5f5f"/><circle cx="1278.9" cy="613.8" r="4" fill="#5f5f5f"/><circle cx="1255.7" cy="618.7" r="4" fill="#5f5f5f"/><circle cx="1270.9" cy="621.6" r="4" fill="#5f5f5f"/><circle cx="1335.5" cy="618.7" r="4" fill="#5f5f5f"/><circle cx="1341.1" cy="622.7" r="4" fill="#5f5f5f"/><circle cx="1177.7" cy="631.9" r="4" fill="#5f5f5f"/><circle cx="1187.7" cy="629.9" r="4" fill="#5f5f5f"/><circle cx="1120.9" cy="640.3" r="4" fill="#5f5f5f"/><circle cx="1218.9" cy="638.8" r="4" fill="#5f5f5f"/><circle cx="1274.2" cy="637.7" r="4" fill="#5f5f5f"/><circle cx="1278.7" cy="635.9" r="4" fill="#5f5f5f"/><circle cx="1324.8" cy="642.8" r="4" fill="#5f5f5f"/><circle cx="1284.7" cy="645.5" r="4" fill="#5f5f5f"/><circle cx="1288.2" cy="651.5" r="4" fill="#5f5f5f"/><circle cx="1264.8" cy="651.5" r="4" fill="#5f5f5f"/><circle cx="1342.8" cy="648.8" r="4" fill="#5f5f5f"/><circle cx="1222.7" cy="656.8" r="4" fill="#5f5f5f"/><circle cx="1292.7" cy="669.1" r="4" fill="#5f5f5f"/><circle cx="1285.8" cy="672.6" r="4" fill="#5f5f5f"/><circle cx="1307.6" cy="670.4" r="4" fill="#5f5f5f"/><circle cx="1311.0" cy="672.2" r="4" fill="#5f5f5f"/><circle cx="1326.8" cy="674.0" r="4" fill="#5f5f5f"/><circle cx="1465.7" cy="496.8" r="4" fill="#5f5f5f"/><circle cx="1359.8" cy="508.8" r="4" fill="#5f5f5f"/><circle cx="1379.9" cy="508.8" r="4" fill="#5f5f5f"/><circle cx="1397.1" cy="512.9" r="4" fill="#5f5f5f"/><circle cx="1401.5" cy="511.7" r="4" fill="#5f5f5f"/><circle cx="1443.0" cy="520.0" r="4" fill="#5f5f5f"/><circle cx="1429.6" cy="526.0" r="4" fill="#5f5f5f"/><circle cx="1486.9" cy="531.1" r="4" fill="#5f5f5f"/><circle cx="1414.0" cy="539.6" r="4" fill="#5f5f5f"/><circle cx="1397.7" cy="547.8" r="4" fill="#5f5f5f"/><circle cx="1391.5" cy="552.5" r="4" fill="#5f5f5f"/><circle cx="1354.0" cy="557.0" r="4" fill="#5f5f5f"/><circle cx="1394.8" cy="568.8" r="4" fill="#5f5f5f"/><circle cx="1421.6" cy="565.9" r="4" fill="#5f5f5f"/><circle cx="1445.6" cy="564.6" r="4" fill="#5f5f5f"/><circle cx="1471.9" cy="559.7" r="4" fill="#5f5f5f"/><circle cx="1470.2" cy="566.3" r="4" fill="#5f5f5f"/><circle cx="1619.5" cy="570.6" r="4" fill="#5f5f5f"/><circle cx="1355.8" cy="579.9" r="4" fill="#5f5f5f"/><circle cx="1370.1" cy="587.5" r="4" fill="#5f5f5f"/><circle cx="1381.7" cy="592.0" r="4" fill="#5f5f5f"/><circle cx="1439.8" cy="591.5" r="4" fill="#5f5f5f"/><circle cx="1468.8" cy="588.6" r="4" fill="#5f5f5f"/><circle cx="1416.0" cy="604.0" r="4" fill="#5f5f5f"/><circle cx="1414.7" cy="612.7" r="4" fill="#5f5f5f"/><circle cx="1447.9" cy="609.8" r="4" fill="#5f5f5f"/><circle cx="1488.0" cy="605.6" r="4" fill="#5f5f5f"/><circle cx="1356.9" cy="621.6" r="4" fill="#5f5f5f"/><circle cx="1394.8" cy="622.7" r="4" fill="#5f5f5f"/><circle cx="1406.6" cy="625.0" r="4" fill="#5f5f5f"/><circle cx="1418.0" cy="636.1" r="4" fill="#5f5f5f"/><circle cx="1359.6" cy="639.9" r="4" fill="#5f5f5f"/><circle cx="1354.3" cy="643.7" r="4" fill="#5f5f5f"/><circle cx="1400.6" cy="649.0" r="4" fill="#5f5f5f"/><circle cx="1464.6" cy="657.9" r="4" fill="#5f5f5f"/><circle cx="1159.9" cy="680.5" r="4" fill="#5f5f5f"/><circle cx="1269.5" cy="680.5" r="4" fill="#5f5f5f"/><circle cx="1198.0" cy="693.8" r="4" fill="#5f5f5f"/><circle cx="1229.0" cy="703.9" r="4" fill="#5f5f5f"/><circle cx="1254.6" cy="702.8" r="4" fill="#5f5f5f"/><circle cx="1303.0" cy="696.7" r="4" fill="#5f5f5f"/><circle cx="1314.8" cy="703.7" r="4" fill="#5f5f5f"/><circle cx="1082.1" cy="715.7" r="4" fill="#5f5f5f"/><circle cx="1114.6" cy="717.9" r="4" fill="#5f5f5f"/><circle cx="1223.6" cy="716.1" r="4" fill="#5f5f5f"/><circle cx="1268.9" cy="717.7" r="4" fill="#5f5f5f"/><circle cx="1317.7" cy="718.6" r="4" fill="#5f5f5f"/><circle cx="1109.1" cy="734.2" r="4" fill="#5f5f5f"/><circle cx="1210.0" cy="727.5" r="4" fill="#5f5f5f"/><circle cx="1301.4" cy="736.9" r="4" fill="#5f5f5f"/><circle cx="1133.8" cy="758.0" r="4" fill="#5f5f5f"/><circle cx="1135.6" cy="766.7" r="4" fill="#5f5f5f"/><circle cx="1161.0" cy="763.6" r="4" fill="#5f5f5f"/><circle cx="1168.6" cy="771.8" r="4" fill="#5f5f5f"/><circle cx="1245.9" cy="758.0" r="4" fill="#5f5f5f"/><circle cx="1299.6" cy="770.1" r="4" fill="#5f5f5f"/><circle cx="1206.9" cy="804.6" r="4" fill="#5f5f5f"/><circle cx="1384.6" cy="691.6" r="4" fill="#5f5f5f"/><circle cx="1406.0" cy="700.5" r="4" fill="#5f5f5f"/><circle cx="1397.5" cy="709.7" r="4" fill="#5f5f5f"/><circle cx="1467.7" cy="705.9" r="4" fill="#5f5f5f"/><circle cx="1373.0" cy="735.1" r="4" fill="#5f5f5f"/><circle cx="1357.8" cy="787.4" r="4" fill="#5f5f5f"/><polyline points="1082.9,637.1 1124,621.9 1167.4,605.3 1190.5,597.2 1213.6,588.2 1229.3,583.1 1248.7,575.5 1270,568.1 1323.1,548.7 1362.4,533.9 1397.5,521.4 1422.4,512.6 1445.5,503.9 1460,499.7 1521.1,476 1545.6,467.9 1598.5,447.5 1618.9,441.8" fill="none" stroke="#9b9b9b" stroke-width="3.3" stroke-linejoin="round"/><rect x="1564.95" y="194.25" width="112.10" height="75.90" fill="#fff" stroke="#383838" stroke-width="1.3"/><text x="1621.00" y="216.4" text-anchor="middle" font-size="20.5"><tspan font-style="italic">β</tspan> = .21</text><text x="1621.00" y="239.6" text-anchor="middle" font-size="20.5"><tspan font-style="italic">p</tspan> &lt; .00001</text><text x="1621.00" y="262.6" text-anchor="middle" font-size="20.5"><tspan font-style="italic">R2</tspan> = .32</text><circle cx="1676.70" cy="479.8" r="4" fill="#5f5f5f"/><text x="1716.60" y="487.3" font-size="22">Observed</text><line x1="1658.20" y1="515.3" x2="1695.40" y2="515.3" stroke="#9b9b9b" stroke-width="3.3"/><text x="1716.60" y="523.2" font-size="22">Linear fit</text></g>
<g><line x1="1984.50" y1="845.30" x2="2556.10" y2="845.30" stroke="#cfcfcf" stroke-width="1.3"/><line x1="1984.50" y1="674.59" x2="2556.10" y2="674.59" stroke="#cfcfcf" stroke-width="1.3"/><line x1="1984.50" y1="503.88" x2="2556.10" y2="503.88" stroke="#cfcfcf" stroke-width="1.3"/><line x1="1984.50" y1="333.18" x2="2556.10" y2="333.18" stroke="#cfcfcf" stroke-width="1.3"/><line x1="1984.50" y1="162.47" x2="2556.10" y2="162.47" stroke="#cfcfcf" stroke-width="1.3"/><line x1="2037.45" y1="132.5" x2="2037.45" y2="862.50" stroke="#cfcfcf" stroke-width="1.3"/><line x1="2137.84" y1="132.5" x2="2137.84" y2="862.50" stroke="#cfcfcf" stroke-width="1.3"/><line x1="2238.23" y1="132.5" x2="2238.23" y2="862.50" stroke="#cfcfcf" stroke-width="1.3"/><line x1="2338.62" y1="132.5" x2="2338.62" y2="862.50" stroke="#cfcfcf" stroke-width="1.3"/><line x1="2439.01" y1="132.5" x2="2439.01" y2="862.50" stroke="#cfcfcf" stroke-width="1.3"/><line x1="2539.40" y1="132.5" x2="2539.40" y2="862.50" stroke="#cfcfcf" stroke-width="1.3"/><line x1="1984.50" y1="162.47" x2="1984.50" y2="845.30" stroke="#4d4d4d" stroke-width="1.4"/><line x1="1974.00" y1="845.30" x2="1984.50" y2="845.30" stroke="#4d4d4d" stroke-width="1.4"/><text transform="translate(1968.30,854.00) scale(1.0,1.04)" text-anchor="end" font-size="21.3">25</text><line x1="1974.00" y1="674.59" x2="1984.50" y2="674.59" stroke="#4d4d4d" stroke-width="1.4"/><text transform="translate(1968.30,683.29) scale(1.0,1.04)" text-anchor="end" font-size="21.3">30</text><line x1="1974.00" y1="503.88" x2="1984.50" y2="503.88" stroke="#4d4d4d" stroke-width="1.4"/><text transform="translate(1968.30,512.59) scale(1.0,1.04)" text-anchor="end" font-size="21.3">35</text><line x1="1974.00" y1="333.18" x2="1984.50" y2="333.18" stroke="#4d4d4d" stroke-width="1.4"/><text transform="translate(1968.30,341.88) scale(1.0,1.04)" text-anchor="end" font-size="21.3">40</text><line x1="1974.00" y1="162.47" x2="1984.50" y2="162.47" stroke="#4d4d4d" stroke-width="1.4"/><text transform="translate(1968.30,171.17) scale(1.0,1.04)" text-anchor="end" font-size="21.3">45</text><line x1="2037.45" y1="862.5" x2="2539.40" y2="862.5" stroke="#4d4d4d" stroke-width="1.4"/><line x1="2037.45" y1="862.5" x2="2037.45" y2="872.30" stroke="#4d4d4d" stroke-width="1.4"/><text transform="translate(2037.45,893.30) scale(1.0,1.04)" text-anchor="middle" font-size="21.3">25</text><line x1="2137.84" y1="862.5" x2="2137.84" y2="872.30" stroke="#4d4d4d" stroke-width="1.4"/><text transform="translate(2137.84,893.30) scale(1.0,1.04)" text-anchor="middle" font-size="21.3">30</text><line x1="2238.23" y1="862.5" x2="2238.23" y2="872.30" stroke="#4d4d4d" stroke-width="1.4"/><text transform="translate(2238.23,893.30) scale(1.0,1.04)" text-anchor="middle" font-size="21.3">35</text><line x1="2338.62" y1="862.5" x2="2338.62" y2="872.30" stroke="#4d4d4d" stroke-width="1.4"/><text transform="translate(2338.62,893.30) scale(1.0,1.04)" text-anchor="middle" font-size="21.3">40</text><line x1="2439.01" y1="862.5" x2="2439.01" y2="872.30" stroke="#4d4d4d" stroke-width="1.4"/><text transform="translate(2439.01,893.30) scale(1.0,1.04)" text-anchor="middle" font-size="21.3">45</text><line x1="2539.40" y1="862.5" x2="2539.40" y2="872.30" stroke="#4d4d4d" stroke-width="1.4"/><text transform="translate(2539.40,893.30) scale(1.0,1.04)" text-anchor="middle" font-size="21.3">50</text><text transform="translate(2270.30,119.00) scale(1.0,1.03)" text-anchor="middle" font-size="28.6">C. + Income + Day</text><text x="2270.30" y="929.3" text-anchor="middle" font-size="26">coupons</text><text transform="translate(1918.30,497.5) rotate(-90)" x="0" y="0" text-anchor="middle" font-size="26">sales</text><circle cx="2423.0" cy="149.1" r="4" fill="#5f5f5f"/><circle cx="2302.0" cy="285.3" r="4" fill="#5f5f5f"/><circle cx="2082.0" cy="365.7" r="4" fill="#5f5f5f"/><circle cx="2199.9" cy="346.4" r="4" fill="#5f5f5f"/><circle cx="2207.7" cy="365.7" r="4" fill="#5f5f5f"/><circle cx="2195.9" cy="379.6" r="4" fill="#5f5f5f"/><circle cx="2262.7" cy="390.7" r="4" fill="#5f5f5f"/><circle cx="2213.7" cy="401.6" r="4" fill="#5f5f5f"/><circle cx="2236.9" cy="399.8" r="4" fill="#5f5f5f"/><circle cx="2255.6" cy="401.0" r="4" fill="#5f5f5f"/><circle cx="2168.9" cy="416.8" r="4" fill="#5f5f5f"/><circle cx="2231.8" cy="422.8" r="4" fill="#5f5f5f"/><circle cx="2254.0" cy="421.9" r="4" fill="#5f5f5f"/><circle cx="2105.0" cy="430.6" r="4" fill="#5f5f5f"/><circle cx="2122.6" cy="429.9" r="4" fill="#5f5f5f"/><circle cx="2135.7" cy="426.4" r="4" fill="#5f5f5f"/><circle cx="2136.8" cy="427.7" r="4" fill="#5f5f5f"/><circle cx="2172.9" cy="441.8" r="4" fill="#5f5f5f"/><circle cx="2174.5" cy="442.9" r="4" fill="#5f5f5f"/><circle cx="2198.1" cy="438.6" r="4" fill="#5f5f5f"/><circle cx="2200.8" cy="453.6" r="4" fill="#5f5f5f"/><circle cx="2217.7" cy="447.5" r="4" fill="#5f5f5f"/><circle cx="2240.7" cy="452.0" r="4" fill="#5f5f5f"/><circle cx="2257.6" cy="445.5" r="4" fill="#5f5f5f"/><circle cx="2093.8" cy="469.2" r="4" fill="#5f5f5f"/><circle cx="2094.7" cy="485.9" r="4" fill="#5f5f5f"/><circle cx="2160.0" cy="467.6" r="4" fill="#5f5f5f"/><circle cx="2204.8" cy="472.5" r="4" fill="#5f5f5f"/><circle cx="2154.9" cy="483.9" r="4" fill="#5f5f5f"/><circle cx="2158.7" cy="489.4" r="4" fill="#5f5f5f"/><circle cx="2164.2" cy="494.8" r="4" fill="#5f5f5f"/><circle cx="2231.0" cy="483.3" r="4" fill="#5f5f5f"/><circle cx="2232.3" cy="482.2" r="4" fill="#5f5f5f"/><circle cx="2244.6" cy="480.8" r="4" fill="#5f5f5f"/><circle cx="2246.2" cy="480.8" r="4" fill="#5f5f5f"/><circle cx="2192.8" cy="494.6" r="4" fill="#5f5f5f"/><circle cx="2203.7" cy="492.3" r="4" fill="#5f5f5f"/><circle cx="2463.1" cy="333.9" r="4" fill="#5f5f5f"/><circle cx="2382.9" cy="345.0" r="4" fill="#5f5f5f"/><circle cx="2271.7" cy="366.9" r="4" fill="#5f5f5f"/><circle cx="2381.1" cy="372.9" r="4" fill="#5f5f5f"/><circle cx="2321.6" cy="379.6" r="4" fill="#5f5f5f"/><circle cx="2274.8" cy="393.2" r="4" fill="#5f5f5f"/><circle cx="2413.7" cy="386.9" r="4" fill="#5f5f5f"/><circle cx="2327.0" cy="402.5" r="4" fill="#5f5f5f"/><circle cx="2325.0" cy="413.7" r="4" fill="#5f5f5f"/><circle cx="2376.7" cy="409.9" r="4" fill="#5f5f5f"/><circle cx="2429.9" cy="418.1" r="4" fill="#5f5f5f"/><circle cx="2358.8" cy="426.8" r="4" fill="#5f5f5f"/><circle cx="2444.0" cy="435.1" r="4" fill="#5f5f5f"/><circle cx="2301.6" cy="449.8" r="4" fill="#5f5f5f"/><circle cx="2309.8" cy="452.7" r="4" fill="#5f5f5f"/><circle cx="2282.9" cy="463.8" r="4" fill="#5f5f5f"/><circle cx="2291.1" cy="462.7" r="4" fill="#5f5f5f"/><circle cx="2330.8" cy="475.6" r="4" fill="#5f5f5f"/><circle cx="2343.9" cy="474.7" r="4" fill="#5f5f5f"/><circle cx="2351.0" cy="480.5" r="4" fill="#5f5f5f"/><circle cx="2349.9" cy="484.5" r="4" fill="#5f5f5f"/><circle cx="2393.6" cy="467.4" r="4" fill="#5f5f5f"/><circle cx="2483.6" cy="461.8" r="4" fill="#5f5f5f"/><circle cx="2288.2" cy="485.4" r="4" fill="#5f5f5f"/><circle cx="2291.1" cy="483.9" r="4" fill="#5f5f5f"/><circle cx="2240.7" cy="496.6" r="4" fill="#5f5f5f"/><circle cx="2265.0" cy="495.5" r="4" fill="#5f5f5f"/><circle cx="2193.2" cy="501.7" r="4" fill="#5f5f5f"/><circle cx="2203.7" cy="501.0" r="4" fill="#5f5f5f"/><circle cx="2160.9" cy="506.2" r="4" fill="#5f5f5f"/><circle cx="2117.9" cy="505.9" r="4" fill="#5f5f5f"/><circle cx="2133.0" cy="504.6" r="4" fill="#5f5f5f"/><circle cx="2102.1" cy="512.9" r="4" fill="#5f5f5f"/><circle cx="2219.7" cy="505.7" r="4" fill="#5f5f5f"/><circle cx="2086.9" cy="526.9" r="4" fill="#5f5f5f"/><circle cx="2166.9" cy="524.7" r="4" fill="#5f5f5f"/><circle cx="2211.0" cy="518.0" r="4" fill="#5f5f5f"/><circle cx="2217.3" cy="516.9" r="4" fill="#5f5f5f"/><circle cx="2215.9" cy="526.0" r="4" fill="#5f5f5f"/><circle cx="2245.6" cy="511.7" r="4" fill="#5f5f5f"/><circle cx="2243.3" cy="515.8" r="4" fill="#5f5f5f"/><circle cx="2263.9" cy="528.9" r="4" fill="#5f5f5f"/><circle cx="2149.3" cy="538.0" r="4" fill="#5f5f5f"/><circle cx="2156.4" cy="538.9" r="4" fill="#5f5f5f"/><circle cx="2162.2" cy="542.9" r="4" fill="#5f5f5f"/><circle cx="2168.7" cy="538.9" r="4" fill="#5f5f5f"/><circle cx="2174.3" cy="536.7" r="4" fill="#5f5f5f"/><circle cx="2208.8" cy="535.6" r="4" fill="#5f5f5f"/><circle cx="2237.3" cy="540.0" r="4" fill="#5f5f5f"/><circle cx="2255.6" cy="536.7" r="4" fill="#5f5f5f"/><circle cx="2262.3" cy="537.8" r="4" fill="#5f5f5f"/><circle cx="2094.0" cy="549.6" r="4" fill="#5f5f5f"/><circle cx="2174.0" cy="548.7" r="4" fill="#5f5f5f"/><circle cx="2203.7" cy="545.8" r="4" fill="#5f5f5f"/><circle cx="2221.7" cy="545.2" r="4" fill="#5f5f5f"/><circle cx="2226.2" cy="544.7" r="4" fill="#5f5f5f"/><circle cx="2246.7" cy="553.6" r="4" fill="#5f5f5f"/><circle cx="2256.1" cy="558.5" r="4" fill="#5f5f5f"/><circle cx="2260.7" cy="561.7" r="4" fill="#5f5f5f"/><circle cx="2243.8" cy="562.1" r="4" fill="#5f5f5f"/><circle cx="2139.0" cy="563.9" r="4" fill="#5f5f5f"/><circle cx="2130.8" cy="569.7" r="4" fill="#5f5f5f"/><circle cx="2176.7" cy="568.6" r="4" fill="#5f5f5f"/><circle cx="2192.1" cy="564.8" r="4" fill="#5f5f5f"/><circle cx="2226.6" cy="569.7" r="4" fill="#5f5f5f"/><circle cx="2232.2" cy="571.9" r="4" fill="#5f5f5f"/><circle cx="2251.8" cy="581.5" r="4" fill="#5f5f5f"/><circle cx="2248.9" cy="588.6" r="4" fill="#5f5f5f"/><circle cx="2187.6" cy="588.6" r="4" fill="#5f5f5f"/><circle cx="2190.3" cy="589.7" r="4" fill="#5f5f5f"/><circle cx="2212.8" cy="585.7" r="4" fill="#5f5f5f"/><circle cx="2222.8" cy="589.7" r="4" fill="#5f5f5f"/><circle cx="2105.6" cy="592.0" r="4" fill="#5f5f5f"/><circle cx="2080.9" cy="599.1" r="4" fill="#5f5f5f"/><circle cx="2096.7" cy="604.7" r="4" fill="#5f5f5f"/><circle cx="2166.9" cy="599.6" r="4" fill="#5f5f5f"/><circle cx="2168.9" cy="607.6" r="4" fill="#5f5f5f"/><circle cx="2183.6" cy="610.9" r="4" fill="#5f5f5f"/><circle cx="2219.5" cy="608.0" r="4" fill="#5f5f5f"/><circle cx="2249.6" cy="608.2" r="4" fill="#5f5f5f"/><circle cx="2255.2" cy="604.7" r="4" fill="#5f5f5f"/><circle cx="2262.7" cy="609.8" r="4" fill="#5f5f5f"/><circle cx="2130.8" cy="627.0" r="4" fill="#5f5f5f"/><circle cx="2093.6" cy="640.6" r="4" fill="#5f5f5f"/><circle cx="2199.7" cy="635.4" r="4" fill="#5f5f5f"/><circle cx="2199.2" cy="642.1" r="4" fill="#5f5f5f"/><circle cx="2176.7" cy="646.6" r="4" fill="#5f5f5f"/><circle cx="2217.7" cy="645.0" r="4" fill="#5f5f5f"/><circle cx="2240.7" cy="642.8" r="4" fill="#5f5f5f"/><circle cx="2259.4" cy="650.6" r="4" fill="#5f5f5f"/><circle cx="2179.6" cy="659.9" r="4" fill="#5f5f5f"/><circle cx="2194.8" cy="665.5" r="4" fill="#5f5f5f"/><circle cx="2071.1" cy="670.4" r="4" fill="#5f5f5f"/><circle cx="2107.8" cy="674.4" r="4" fill="#5f5f5f"/><circle cx="2202.1" cy="677.8" r="4" fill="#5f5f5f"/><circle cx="2315.6" cy="501.7" r="4" fill="#5f5f5f"/><circle cx="2321.0" cy="509.5" r="4" fill="#5f5f5f"/><circle cx="2378.0" cy="506.2" r="4" fill="#5f5f5f"/><circle cx="2385.8" cy="512.9" r="4" fill="#5f5f5f"/><circle cx="2343.7" cy="514.0" r="4" fill="#5f5f5f"/><circle cx="2333.4" cy="526.7" r="4" fill="#5f5f5f"/><circle cx="2310.5" cy="532.9" r="4" fill="#5f5f5f"/><circle cx="2331.7" cy="535.8" r="4" fill="#5f5f5f"/><circle cx="2319.6" cy="539.8" r="4" fill="#5f5f5f"/><circle cx="2379.6" cy="530.7" r="4" fill="#5f5f5f"/><circle cx="2284.0" cy="546.7" r="4" fill="#5f5f5f"/><circle cx="2304.9" cy="542.9" r="4" fill="#5f5f5f"/><circle cx="2307.1" cy="550.7" r="4" fill="#5f5f5f"/><circle cx="2377.1" cy="550.5" r="4" fill="#5f5f5f"/><circle cx="2386.7" cy="547.0" r="4" fill="#5f5f5f"/><circle cx="2407.7" cy="545.6" r="4" fill="#5f5f5f"/><circle cx="2292.0" cy="567.0" r="4" fill="#5f5f5f"/><circle cx="2283.5" cy="575.7" r="4" fill="#5f5f5f"/><circle cx="2338.8" cy="575.9" r="4" fill="#5f5f5f"/><circle cx="2364.9" cy="576.8" r="4" fill="#5f5f5f"/><circle cx="2397.0" cy="569.0" r="4" fill="#5f5f5f"/><circle cx="2537.6" cy="569.0" r="4" fill="#5f5f5f"/><circle cx="2303.4" cy="588.9" r="4" fill="#5f5f5f"/><circle cx="2314.7" cy="588.0" r="4" fill="#5f5f5f"/><circle cx="2325.9" cy="588.9" r="4" fill="#5f5f5f"/><circle cx="2362.0" cy="596.0" r="4" fill="#5f5f5f"/><circle cx="2267.7" cy="603.8" r="4" fill="#5f5f5f"/><circle cx="2333.7" cy="609.6" r="4" fill="#5f5f5f"/><circle cx="2362.6" cy="618.0" r="4" fill="#5f5f5f"/><circle cx="2376.9" cy="636.1" r="4" fill="#5f5f5f"/><circle cx="2278.4" cy="647.7" r="4" fill="#5f5f5f"/><circle cx="2339.5" cy="657.9" r="4" fill="#5f5f5f"/><circle cx="2294.9" cy="664.8" r="4" fill="#5f5f5f"/><circle cx="2315.8" cy="671.8" r="4" fill="#5f5f5f"/><circle cx="2043.0" cy="680.7" r="4" fill="#5f5f5f"/><circle cx="2142.6" cy="681.8" r="4" fill="#5f5f5f"/><circle cx="2224.9" cy="680.5" r="4" fill="#5f5f5f"/><circle cx="2014.0" cy="697.9" r="4" fill="#5f5f5f"/><circle cx="2116.8" cy="693.4" r="4" fill="#5f5f5f"/><circle cx="2140.4" cy="690.1" r="4" fill="#5f5f5f"/><circle cx="2134.8" cy="703.0" r="4" fill="#5f5f5f"/><circle cx="2188.5" cy="690.9" r="4" fill="#5f5f5f"/><circle cx="2212.8" cy="691.8" r="4" fill="#5f5f5f"/><circle cx="2218.2" cy="695.9" r="4" fill="#5f5f5f"/><circle cx="2231.5" cy="698.1" r="4" fill="#5f5f5f"/><circle cx="2248.9" cy="703.7" r="4" fill="#5f5f5f"/><circle cx="2181.8" cy="709.0" r="4" fill="#5f5f5f"/><circle cx="2234.9" cy="727.9" r="4" fill="#5f5f5f"/><circle cx="2000.7" cy="742.9" r="4" fill="#5f5f5f"/><circle cx="2043.7" cy="743.8" r="4" fill="#5f5f5f"/><circle cx="2036.1" cy="758.3" r="4" fill="#5f5f5f"/><circle cx="2079.1" cy="758.3" r="4" fill="#5f5f5f"/><circle cx="2156.9" cy="741.8" r="4" fill="#5f5f5f"/><circle cx="2176.9" cy="738.0" r="4" fill="#5f5f5f"/><circle cx="2219.1" cy="749.6" r="4" fill="#5f5f5f"/><circle cx="2213.7" cy="768.1" r="4" fill="#5f5f5f"/><circle cx="2054.1" cy="791.0" r="4" fill="#5f5f5f"/><circle cx="2079.5" cy="785.7" r="4" fill="#5f5f5f"/><circle cx="2120.8" cy="803.9" r="4" fill="#5f5f5f"/><circle cx="2308.0" cy="684.5" r="4" fill="#5f5f5f"/><circle cx="2325.0" cy="688.5" r="4" fill="#5f5f5f"/><circle cx="2382.0" cy="693.8" r="4" fill="#5f5f5f"/><circle cx="2283.1" cy="708.8" r="4" fill="#5f5f5f"/><circle cx="2282.2" cy="827.1" r="4" fill="#5f5f5f"/><polyline points="2000.8,638.0 2536.7,435.7" fill="none" stroke="#9b9b9b" stroke-width="3.3" stroke-linejoin="round"/><rect x="2483.45" y="192.05" width="112.50" height="76.60" fill="#fff" stroke="#383838" stroke-width="1.3"/><text x="2539.70" y="215.3" text-anchor="middle" font-size="20.5"><tspan font-style="italic">β</tspan> = .22</text><text x="2539.70" y="238.5" text-anchor="middle" font-size="20.5"><tspan font-style="italic">p</tspan> &lt; .00001</text><text x="2539.70" y="261.0" text-anchor="middle" font-size="20.5"><tspan font-style="italic">R2</tspan> = .37</text><circle cx="2595.10" cy="479.8" r="4" fill="#5f5f5f"/><text x="2635.00" y="487.3" font-size="22">Observed</text><line x1="2576.60" y1="515.3" x2="2613.80" y2="515.3" stroke="#9b9b9b" stroke-width="3.3"/><text x="2635.00" y="523.2" font-size="22">Linear fit</text></g>
</svg>
</body></html>
